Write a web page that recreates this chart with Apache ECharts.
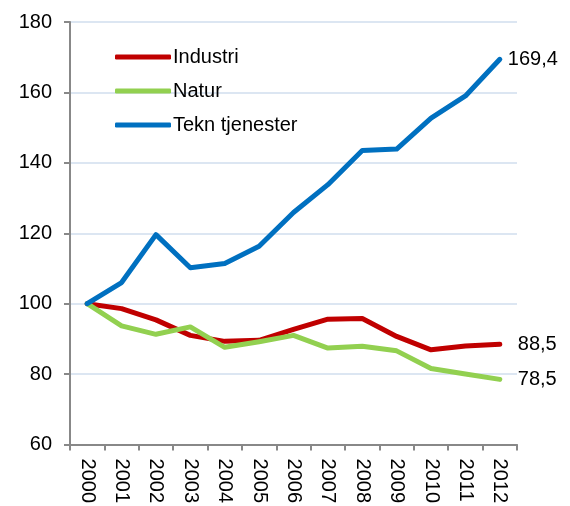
<!DOCTYPE html>
<html>
<head>
<meta charset="utf-8">
<script src="https://cdn.jsdelivr.net/npm/echarts@6/dist/echarts.min.js"></script>
<style>
  html, body { margin: 0; padding: 0; background: #fff; }
  #chart { width: 570px; height: 506px; }
</style>
</head>
<body>
<div id="chart"></div>
<script>
// data
const years = ['2000', '2001', '2002', '2003', '2004', '2005', '2006', '2007', '2008', '2009', '2010', '2011', '2012'];
const industri = [100, 98.6, 95.4, 91.0, 89.3, 89.6, 92.7, 95.6, 95.8, 90.7, 86.9, 88.0, 88.5];
const natur = [100, 93.7, 91.3, 93.4, 87.6, 89.2, 91.0, 87.4, 87.9, 86.6, 81.6, 80.0, 78.5];
const tekn = [100, 106.0, 119.6, 110.2, 111.4, 116.3, 125.9, 133.8, 143.5, 143.9, 152.7, 159.0, 169.4];
const seriesNames = ['Industri', 'Natur', 'Tekn tjenester'];
const colors = ['#C00000', '#92D050', '#0070C0'];
const yTicks = { min: 60, max: 180, step: 20 };

const font = '"Liberation Sans", Arial, sans-serif';
const fs = 20;

function line(name, data, color, dist) {
    return {
        name: name,
        type: 'line',
        data: data,
        symbol: 'none',
        lineStyle: { color: color, width: 5, cap: 'round', join: 'round' },
        itemStyle: { color: color },
        endLabel: {
            show: true,
            distance: dist,
            color: '#000',
            fontFamily: font,
            fontSize: fs,
            formatter: function (p) {
                return String(p.value).replace('.', ',');
            }
        }
    };
}

const chart = echarts.init(document.getElementById('chart'));
chart.setOption({
    animation: false,
    color: colors,
    grid: { left: 70, right: 53, top: 22, bottom: 60, containLabel: false },
    legend: {
        orient: 'vertical',
        left: 110,
        top: 42,
        itemWidth: 56,
        itemHeight: 5,
        itemGap: 14,
        icon: 'roundRect',
        textStyle: { fontFamily: font, fontSize: fs, color: '#000', padding: [0, 0, 0, -3] },
        data: seriesNames
    },
    xAxis: {
        type: 'category',
        data: years,
        boundaryGap: true,
        axisLine: { lineStyle: { color: '#888', width: 2 } },
        axisTick: { show: true, length: 6, lineStyle: { color: '#888', width: 2 } },
        axisLabel: {
            rotate: -90,
            margin: 14,
            color: '#000',
            fontFamily: font,
            fontSize: fs
        },
        splitLine: { show: false }
    },
    yAxis: {
        type: 'value',
        min: yTicks.min,
        max: yTicks.max,
        interval: yTicks.step,
        axisLine: { show: true, lineStyle: { color: '#888', width: 2 } },
        axisTick: { show: true, length: 6, lineStyle: { color: '#888', width: 2 } },
        axisLabel: {
            margin: 18,
            color: '#000',
            fontFamily: font,
            fontSize: fs
        },
        splitLine: { lineStyle: { color: '#dce6f2', width: 2 } }
    },
    series: [
        line(seriesNames[0], industri, colors[0], 18),
        line(seriesNames[1], natur, colors[1], 18),
        line(seriesNames[2], tekn, colors[2], 8)
    ]
});
</script>
</body>
</html>
